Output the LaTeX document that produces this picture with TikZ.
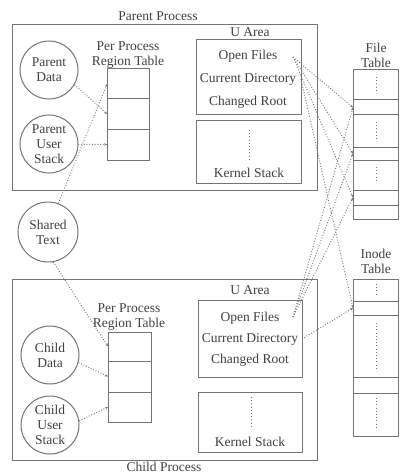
\documentclass[tikz,border=0pt]{standalone}
\usepackage{fontspec}
\setmainfont{Liberation Serif}
\usetikzlibrary{arrows.meta}
\begin{document}
\begin{tikzpicture}[x=1pt,y=-1pt,
  font=\fontsize{13.5}{15}\selectfont,
  box/.style={draw=black!55, line width=1pt, rectangle, anchor=north west, inner sep=0pt, outer sep=0pt},
  reg/.style={circle, draw=black!55, line width=1pt, minimum size=58pt, inner sep=0pt, align=center, text=black!75},
  lbl/.style={inner sep=0pt, align=center, text=black!75},
  ptr/.style={draw=black!55, line width=0.9pt, dash pattern=on 0.9pt off 1.8pt, -{Stealth[length=3pt,width=2.4pt]}},
  vd/.style={draw=black!55, line width=0.9pt, dash pattern=on 1pt off 2.2pt}]
\useasboundingbox[fill=white] (0,0) rectangle (402,476);

% ---------- Parent process ----------
\node[box, minimum width=305pt, minimum height=165pt] (parent) at (12,25) {};
\node[lbl] (parentlbl) at (158,16) {Parent Process};
\node[lbl] (pper) at (128,55) {Per Process\\Region Table};
\node[box, minimum width=42pt, minimum height=30pt] (prt1) at (107,69) {};
\node[box, minimum width=42pt, minimum height=30pt] (prt2) at (107,99) {};
\node[box, minimum width=42pt, minimum height=31pt] (prt3) at (107,129) {};
\node[reg] (pdata) at (49,70) {Parent\\Data};
\node[reg] (pstack) at (49,144) {Parent\\User\\Stack};
\node[lbl] (pua) at (250,32) {U Area};
\node[box, minimum width=105pt, minimum height=75pt] (pfiles) at (196,40) {};
\node[lbl] (pof) at (248,56) {Open Files};
\node[lbl] (pcd) at (248,79) {Current Directory};
\node[lbl] (pcr) at (248,102) {Changed Root};
\node[box, minimum width=105pt, minimum height=62pt] (pkbox) at (196,121) {};
\node[lbl] (pks) at (249,173) {Kernel Stack};
\draw[vd] (249,130) -- (249,160);

% ---------- Shared text ----------
\node[reg, minimum size=60pt] (shared) at (48,232) {Shared\\Text};

% ---------- Child process ----------
\node[box, minimum width=305pt, minimum height=181pt] (child) at (12,279) {};
\node[lbl] (childlbl) at (164,467) {Child Process};
\node[lbl] (cper) at (129,317) {Per Process\\Region Table};
\node[box, minimum width=43pt, minimum height=29pt] (crt1) at (108,332) {};
\node[box, minimum width=43pt, minimum height=31pt] (crt2) at (108,361) {};
\node[box, minimum width=43pt, minimum height=30pt] (crt3) at (108,392) {};
\node[reg] (cdata) at (50,355) {Child\\Data};
\node[reg] (cstack) at (50,425) {Child\\User\\Stack};
\node[lbl] (cua) at (250,290) {U Area};
\node[box, minimum width=104pt, minimum height=77pt] (cfiles) at (198,300) {};
\node[lbl] (cof) at (250,318) {Open Files};
\node[lbl] (ccd) at (250,339) {Current Directory};
\node[lbl] (ccr) at (250,360) {Changed Root};
\node[box, minimum width=104pt, minimum height=60pt] (ckbox) at (198,392) {};
\node[lbl] (cks) at (250,442) {Kernel Stack};
\draw[vd] (251,397) -- (251,428);

% ---------- File table ----------
\node[lbl] (ftlbl) at (376,55.5) {File\\Table};
\node[box, minimum width=45pt, minimum height=30pt] (ft1) at (353,70) {};
\node[box, minimum width=45pt, minimum height=15pt] (ft2) at (353,100) {};
\node[box, minimum width=45pt, minimum height=32pt] (ft3) at (353,115) {};
\node[box, minimum width=45pt, minimum height=13pt] (ft4) at (353,147) {};
\node[box, minimum width=45pt, minimum height=30pt] (ft5) at (353,160) {};
\node[box, minimum width=45pt, minimum height=15pt] (ft6) at (353,190) {};
\node[box, minimum width=45pt, minimum height=14pt] (ft7) at (353,205) {};
\draw[vd] (376,77) -- (376,93);
\draw[vd] (376,122) -- (376,140);
\draw[vd] (376,167) -- (376,183);

% ---------- Inode table ----------
\node[lbl] (itlbl) at (376,261.5) {Inode\\Table};
\node[box, minimum width=45pt, minimum height=22pt] (it1) at (353,279) {};
\node[box, minimum width=45pt, minimum height=14pt] (it2) at (353,301) {};
\node[box, minimum width=45pt, minimum height=62pt] (it3) at (353,315) {};
\node[box, minimum width=45pt, minimum height=16pt] (it4) at (353,377) {};
\node[box, minimum width=45pt, minimum height=43pt] (it5) at (353,393) {};
\draw[vd] (376,284) -- (376,296);
\draw[vd] (376,323) -- (376,368);
\draw[vd] (376,398) -- (376,430);

% ---------- Region pointers ----------
\draw[ptr] (pdata.-30) -- (prt2.west);
\draw[ptr] (pstack) -- (prt3.west);
\draw[ptr] (shared.70) -- (prt1.west);
\draw[ptr] (shared.-80) -- (crt1.west);
\draw[ptr] (cdata.-15) -- (crt2.west);
\draw[ptr] (cstack.8) -- (crt3.west);

% ---------- File / inode pointers ----------
\coordinate (pofx) at (293,57);
\coordinate (pcdx) at (pfiles.east |- pcd);
\coordinate (cofx) at (293,317);
\coordinate (ccdx) at (cfiles.east |- ccd);
\draw[ptr] (pofx) -- (ft2.west);
\draw[ptr] (pofx) -- (ft4.west);
\draw[ptr] (pofx) -- (ft6.west);
\draw[ptr] (cofx) -- (ft2.west);
\draw[ptr] (cofx) -- (ft4.west);
\draw[ptr] (cofx) -- (ft6.west);
\draw[ptr] (pcdx) -- (it2.west);
\draw[ptr] (ccdx) -- (it2.west);
\end{tikzpicture}
\end{document}
